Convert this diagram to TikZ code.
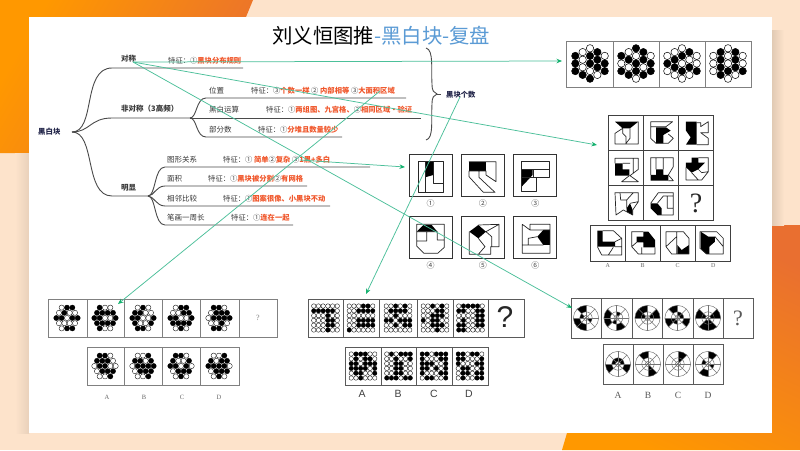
\documentclass[tikz,border=0pt]{standalone}
\usepackage{fontspec}
\setmainfont{Noto Sans CJK SC}
\newfontfamily\lsans{Liberation Sans}
\newfontfamily\lserif{Liberation Serif}
\usetikzlibrary{arrows.meta}
\definecolor{peach}{HTML}{FDE3CB}
\definecolor{orA}{HTML}{FF9800}
\definecolor{orB}{HTML}{E96F30}
\definecolor{redt}{HTML}{F0562A}
\definecolor{navy}{HTML}{23264A}
\definecolor{titleblue}{HTML}{5B9BD5}
\definecolor{link}{HTML}{4CC09A}
\definecolor{tip}{HTML}{14B26E}
\definecolor{treec}{HTML}{4A4A4A}
\definecolor{framec}{HTML}{5A5A5A}
\definecolor{framelt}{HTML}{808080}
\tikzset{
 branch/.style={draw=treec,line width=0.9pt},
 link/.style={draw=link,line width=0.75pt,-{Stealth[length=5.5pt,width=4.5pt,color=tip]}},
 tname/.style={anchor=west,inner sep=0pt,text=black!78,font=\fontsize{7.5}{9}\selectfont},
 tfeat/.style={anchor=west,inner sep=0pt,text=black!75,font=\fontsize{7.3}{9}\selectfont},
 capt/.style={inner sep=0pt,text=black!60,font=\lserif\fontsize{6}{7}\selectfont},
 frameln/.style={draw=framec,line width=0.9pt},
 framelite/.style={draw=framelt,line width=0.9pt},
 fig/.style={draw=black!85,line width=0.7pt,line join=round}
}
\newcommand{\rd}[1]{\textcolor{redt}{\textbf{#1}}}
\def\hexU{-2,-2,-2,-1,-1,-1,-1,0,0,0,0,0,1,1,1,1,2,2,2}
\def\hexV{-1,0,1,-1.5,-.5,.5,1.5,-2,-1,0,1,2,-1.5,-.5,.5,1.5,-1,0,1}
% pointy hex: columns left to right
\newcommand{\hexP}[3]{\foreach \bb [count=\i] in {#3}{%
 \pgfmathsetmacro\uu{{\hexU}[\i-1]}\pgfmathsetmacro\vv{{\hexV}[\i-1]}%
 \ifnum\bb=1 \def\cc{black}\else\def\cc{white}\fi
 \filldraw[fill=\cc,draw=black,line width=0.5pt] ({#1+\uu*7.35},{#2+\vv*7.6}) circle[radius=3.7];}}
% flat hex: rows top to bottom
\newcommand{\hexF}[3]{\foreach \bb [count=\i] in {#3}{%
 \pgfmathsetmacro\uu{{\hexU}[\i-1]}\pgfmathsetmacro\vv{{\hexV}[\i-1]}%
 \ifnum\bb=1 \def\cc{black}\else\def\cc{white}\fi
 \filldraw[fill=\cc,draw=black,line width=0.35pt] ({#1+\vv*5.35},{#2+\uu*5.2}) circle[radius=2.6];}}
\newcommand{\gcell}[3]{\foreach \bb [count=\i] in {#3}{%
 \pgfmathtruncatemacro\cl{mod(\i-1,6)}\pgfmathtruncatemacro\rw{int((\i-1)/6)}%
 \ifnum\bb=1 \def\cc{black}\else\def\cc{white}\fi
 \filldraw[fill=\cc,draw=black,line width=0.35pt] ({#1+(\cl-2.5)*4.7},{#2+(\rw-2.5)*4.8}) circle[radius=2.25];}}
\newcommand{\wheel}[4]{\begin{scope}[shift={(#1,#2)}]
 \foreach \aa/\ab in {#3}{\fill[black] (-\aa:12.6) arc[start angle=-\aa,end angle=-\ab,radius=12.6] -- (-\ab:6.2) arc[start angle=-\ab,end angle=-\aa,radius=6.2] -- cycle;}
 \foreach \aa/\ab in {#4}{\fill[black] (-\aa:6.2) arc[start angle=-\aa,end angle=-\ab,radius=6.2] -- (-\ab:2.6) arc[start angle=-\ab,end angle=-\aa,radius=2.6] -- cycle;}
 \draw[black!60,line width=0.45pt] (0,0) circle[radius=12.6] (0,0) circle[radius=6.2] (0,0) circle[radius=2.6];
 \foreach \t in {0,45,90,135}{\draw[black!55,line width=0.4pt] (\t:-12.6) -- (\t:12.6);}
\end{scope}}
\begin{document}
\begin{tikzpicture}[x=1pt,y=-1pt]
\useasboundingbox (0,0) rectangle (800,450);
% background
\fill[peach] (0,0) rectangle (800,450);
\shade[shading=axis,top color=orA,bottom color=orB,shading angle=60] (0,0) -- (253,0) -- (246,17) -- (29,17) -- (29,153) -- (0,153) -- cycle;
\shade[shading=axis,top color=orB,bottom color=orA,shading angle=-25] (800,225) -- (771,225) -- (771,433) -- (567,433) -- (562,450) -- (800,450) -- cycle;
\shade[left color=black!12!peach,right color=peach] (771,30) rectangle (784,225);
\shade[left color=peach,right color=black!8!peach] (15,153) rectangle (29,433);
\fill[white] (29,17) rectangle (771.5,433);
% title
\node[anchor=west,inner sep=0pt,font=\fontsize{20.4}{24}\selectfont] (title) at (272,36) {刘义恒图推\textcolor{titleblue}{-黑白块-复盘}};
% mind map
\node[anchor=west,inner sep=0pt,text=navy,font=\bfseries\fontsize{7.4}{9}\selectfont] (root) at (38,132) {黑白块};
\coordinate (rootJ) at (72,132);
\coordinate (jB) at (190,118);
\coordinate (jC) at (148,196);
\node[tname,font=\bfseries\fontsize{7.5}{9}\selectfont] (sym) at (121,59) {对称};
\node[tname,font=\bfseries\fontsize{7.5}{9}\selectfont] (asym) at (121,109) {非对称（3高频）};
\node[tname,font=\bfseries\fontsize{7.5}{9}\selectfont] (obv) at (121,188) {明显};
\node[tname] (pos) at (209,91) {位置};
\node[tname] (bw) at (209,110) {黑白运算};
\node[tname] (part) at (209,130) {部分数};
\node[tname] (rel) at (167,160) {图形关系};
\node[tname] (area) at (167,179) {面积};
\node[tname] (adj) at (167,199) {相邻比较};
\node[tname] (stroke) at (167,218) {笔画一周长};
\node[tfeat] (f1) at (168,61) {特征：①\rd{黑块分布规则}};
\node[tfeat] (f2) at (251,91) {特征：③\rd{个数一样} ② \rd{内部相等} ③\rd{大面积区域}};
\node[tfeat] (f3) at (266,110) {特征：①\rd{两组图、九宫格、}②\rd{相同区域·验证}};
\node[tfeat] (f4) at (258,130) {特征：①\rd{分堆且数量较少}};
\node[tfeat] (f5) at (223,160) {特征：① \rd{简单}②\rd{复杂} ③\rd{1黑+多白}};
\node[tfeat] (f6) at (208,179) {特征：①\rd{黑块被分割}②\rd{有网格}};
\node[tfeat] (f7) at (223,199) {特征：①\rd{图案很像、小黑块不动}};
\node[tfeat] (f8) at (231,218) {特征：①\rd{连在一起}};
\draw[branch] (rootJ) .. controls (96,132) and (82,68) .. (112,68) -- (243,68);
\draw[branch] (rootJ) .. controls (90,132) and (90,118) .. (112,118) -- (jB);
\draw[branch] (rootJ) .. controls (96,132) and (84,196) .. (112,196) -- (jC);
\draw[branch] (jB) .. controls (197,118) and (196,98) .. (206,98) -- (406,98);
\draw[branch] (jB) -- (421,118);
\draw[branch] (jB) .. controls (197,118) and (196,137) .. (206,137) -- (342,137);
\draw[branch] (jC) .. controls (156,196) and (154,167) .. (165,167) -- (370,167);
\draw[branch] (jC) .. controls (154,196) and (156,186) .. (165,186) -- (307,186);
\draw[branch] (jC) .. controls (154,196) and (156,206) .. (165,206) -- (330,206);
\draw[branch] (jC) .. controls (156,196) and (154,225) .. (165,225) -- (293,225);
% brace
\draw[treec,line width=0.9pt] (426,48) .. controls (434,50) and (431,70) .. (432,84) .. controls (432,91) and (434,93) .. (437,94) .. controls (434,95) and (432,97) .. (432,104) .. controls (431,120) and (434,138) .. (426,140);
\coordinate (braceTip) at (437,94);
\coordinate (countL) at (441,94);
\draw[treec,line width=0.9pt] (braceTip) -- (countL);
\node[anchor=west,inner sep=0pt,text=navy,font=\bfseries\fontsize{7.3}{9}\selectfont] (count) at (446,95) {黑块个数};
% top right panel
\draw[framelite] (566,41) rectangle (751.7,87);
\foreach \d in {613,659,705}{\draw[framelite] (\d,41) -- (\d,87);}
\hexP{590}{63.5}{1,1,1, 0,0,0,1, 0,1,1,0,1, 1,1,1,0, 0,1,1}
\hexP{636}{63.5}{1,0,1, 0,1,0,1, 1,0,1,1,0, 1,1,0,1, 0,1,1}
\hexP{682}{63.5}{0,1,0, 0,1,1,0, 0,1,0,1,0, 1,0,1,0, 0,0,1}
\hexP{728}{63.5}{0,0,0, 1,1,1,1, 0,0,0,1,0, 1,1,1,0, 0,0,1}
% six figure panels
\begin{scope}[shift={(400,140)},x=0.3333pt,y=-0.3333pt]
\foreach \xa/\ya/\lb/\lname in {28/43/①/la,185/43/②/lb,342/43/③/lc,28/229/④/ld,185/229/⑤/le,342/229/⑥/lf}{
 \draw[black!80,line width=1pt] (\xa,\ya) rectangle ++(128,127);
 \node[inner sep=0pt,text=black!70,font=\fontsize{8}{9}\selectfont] (\lname) at (\xa+64,\ya+146) {\lb};
}
% 1
\fill[black] (75,65) -- (100,65) -- (100,105) -- (75,112) -- cycle;
\draw[fig] (55,65) rectangle (130,157) (75,65) -- (75,157) (100,65) -- (100,130) -- (130,130);
% 2
\fill[black] (207,65) rectangle (258,93);
\draw[fig] (207,65) -- (288,65) -- (288,125) -- (258,105) -- (258,93) -- (207,93) -- (207,110) -- (250,157) -- (285,157) -- (237,112) -- (237,93);
% 3
\fill[black] (365,88) -- (398,88) -- (398,105) -- (365,140) -- cycle;
\draw[fig] (365,65) rectangle (447,112) (365,88) -- (447,88) (400,88) -- (400,112) (365,88) -- (365,153) -- (408,153) -- (408,112);
% 4
\fill[black] (50,275) -- (70,255) -- (95,255) -- (112,275) -- cycle;
\draw[fig] (50,253) -- (133,253) -- (133,322) -- (113,340) -- (72,340) -- (50,318) -- cycle (80,275) -- (80,303) -- (50,303) (50,275) -- (112,275) -- (112,300) -- (133,300);
% 5
\fill[black] (208,275) -- (235,255) -- (258,275) -- (235,295) -- cycle;
\draw[fig] (235,255) -- (297,253) -- (297,320) -- (272,320) -- (272,343) -- (208,343) -- (208,275) (258,275) -- (297,253) (235,295) -- (255,320) -- (235,343) (258,275) -- (275,290) -- (275,320);
% 6
\fill[black] (412,290) -- (430,270) -- (450,270) -- (450,315) -- (430,315) -- cycle;
\draw[fig] (367,253) -- (390,270) -- (390,253) -- (450,253) -- (450,340) -- (367,340) -- cycle (390,270) -- (450,270) (412,290) -- (385,295) -- (385,315) (430,315) -- (367,315);
\end{scope}
% matrix figure
\begin{scope}[shift={(580,110)},x=0.3333pt,y=-0.3333pt]
\draw[black!75,line width=1pt] (85,17) rectangle (402,333) (190,17) -- (190,333) (296,17) -- (296,333) (85,122) -- (402,122) (85,228) -- (402,228);
\draw[black!75,line width=1pt] (30,348) rectangle (452,454) (137,348) -- (137,454) (242,348) -- (242,454) (347,348) -- (347,454);
\node[inner sep=0pt,font=\lserif\fontsize{28}{30}\selectfont,text=black!85] (mq) at (348,280) {?};
\foreach \lx/\lb/\lname in {83/A/ma,188/B/mb,293/C/mc,400/D/md}{\node[capt] (\lname) at (\lx,468) {\lb};}
% row 1
\fill[black] (105,35) -- (175,35) -- (150,55) -- (128,55) -- cycle;
\draw[fig] (175,35) -- (175,102) -- (105,102) -- (105,70) -- (128,55) -- (128,70) -- (138,80) -- (138,102) (150,55) -- (150,85) -- (138,100);
\fill[black] (228,52) -- (258,52) -- (272,62) -- (250,75) -- (250,100) -- (228,100) -- cycle;
\draw[fig] (212,35) -- (278,35) -- (258,50) -- (212,50) (212,35) -- (212,85) -- (228,100) -- (265,100) -- (280,85) -- (265,72);
\fill[black] (330,35) -- (350,35) -- (350,104) -- (318,104) -- (332,82) -- (318,62) -- (318,35) -- cycle;
\draw[fig] (350,38) -- (362,38) -- (362,50) -- (385,35) -- (385,68) -- (362,68) -- (385,85) -- (385,104) -- (350,104);
% row 2
\fill[black] (105,160) -- (128,160) -- (128,178) -- (148,178) -- (148,197) -- (105,197) -- cycle;
\draw[fig] (105,160) -- (105,145) -- (175,145) -- (175,178) -- (150,197) -- (175,215) -- (125,215) -- (148,197) (128,160) -- (150,160) (160,145) -- (160,188);
\fill[black] (228,178) -- (250,178) -- (250,195) -- (265,195) -- (265,212) -- (212,212) -- (212,195) -- (228,195) -- cycle;
\draw[fig] (212,195) -- (212,143) -- (280,143) -- (280,170) -- (265,195) -- (280,212) -- (265,212) (228,143) -- (228,178) (250,143) -- (250,178);
\fill[black] (335,143) -- (355,143) -- (355,158) -- (375,158) -- (355,178) -- (335,188) -- (318,172) -- (318,158) -- (335,158) -- cycle;
\draw[fig] (355,143) -- (385,143) -- (385,185) -- (365,210) -- (318,210) -- (318,172) (335,188) -- (355,210) (355,178) -- (365,188) -- (385,185);
% row 3
\fill[black] (140,295) -- (150,280) -- (158,300) -- (158,315) -- (140,305) -- cycle;
\draw[fig] (105,248) -- (175,248) -- (175,275) -- (158,300) -- (158,315) -- (130,300) -- (108,315) -- cycle (120,248) -- (122,270) -- (140,270) -- (140,295) (160,248) -- (140,270) (175,275) -- (150,280);
\fill[black] (212,280) -- (232,280) -- (245,295) -- (245,315) -- (232,315) -- (212,295) -- cycle;
\draw[fig] (212,280) -- (235,248) -- (280,248) -- (280,315) -- (232,315) (232,280) -- (250,258) -- (262,258) -- (262,295) -- (280,295) (250,258) -- (280,258);
% options
\fill[black] (52,362) -- (68,362) -- (68,395) -- (105,395) -- (105,410) -- (52,410) -- cycle;
\draw[fig] (68,362) -- (100,362) -- (125,385) -- (125,435) -- (65,435) -- (52,410) (105,395) -- (125,385) (105,410) -- (125,410) (100,412) -- (85,435);
\fill[black] (170,380) -- (190,380) -- (190,365) -- (205,365) -- (225,390) -- (225,412) -- (190,412) -- (190,397) -- (170,397) -- cycle;
\draw[fig] (190,365) -- (155,365) -- (155,410) -- (175,432) -- (225,432) -- (225,412) (185,412) -- (185,432) (155,410) -- (170,397);
\fill[black] (292,432) -- (292,405) -- (305,420) -- (327,405) -- (327,432) -- cycle;
\draw[fig] (258,365) -- (310,365) -- (327,385) -- (327,432) -- (275,432) -- (258,410) -- cycle (290,365) -- (290,432) (258,410) -- (290,380);
\fill[black] (362,365) -- (385,380) -- (405,380) -- (405,395) -- (388,410) -- (388,432) -- (378,432) -- (362,415) -- cycle;
\draw[fig] (360,365) -- (410,365) -- (430,385) -- (430,432) -- (380,432) -- (360,415) -- cycle (405,380) -- (430,410);
\end{scope}
% bottom left panels
\draw[framelite] (48,299) rectangle (277,337);
\foreach \d in {87,124,162,200,239}{\draw[framelite] (\d,299) -- (\d,337);}
\draw[framelite] (87,347) rectangle (239,385);
\foreach \d in {124,162,200}{\draw[framelite] (\d,347) -- (\d,385);}
\hexF{67}{318}{0,1,1, 0,1,0,0, 1,1,0,1,1, 0,0,0,0, 0,1,1}
\hexF{105}{318}{1,0,0, 1,1,1,1, 1,1,0,0,1, 1,1,1,1, 1,0,0}
\hexF{143}{318}{0,1,0, 1,1,0,0, 1,1,0,0,1, 1,0,0,1, 1,1,0}
\hexF{181}{318}{0,1,1, 0,0,1,1, 1,1,0,0,1, 1,1,1,1, 0,1,0}
\hexF{219}{318}{1,1,0, 0,1,1,1, 0,1,1,1,1, 0,0,1,0, 1,1,0}
\hexF{105}{366}{1,1,0, 1,1,1,0, 0,1,1,0,0, 0,1,1,1, 0,0,1}
\hexF{143}{366}{0,0,1, 1,1,0,1, 0,1,1,1,1, 0,1,1,1, 0,0,1}
\hexF{181}{366}{1,1,0, 1,0,0,1, 1,1,0,1,0, 0,1,1,1, 0,1,0}
\hexF{219}{366}{0,0,1, 1,0,1,1, 1,1,1,1,0, 0,1,1,1, 0,1,0}
\node[inner sep=0pt,font=\lserif\fontsize{8}{9}\selectfont,text=black!50] (lq) at (258,318) {?};
\foreach \lx/\lb/\lname in {107/A/ba,144/B/bb,182/C/bc,219/D/bd}{\node[capt,font=\lserif\fontsize{6.5}{8}\selectfont] (\lname) at (\lx,397) {\lb};}
% middle panels
\draw[frameln] (308,299) rectangle (524,337);
\foreach \d in {343,379,417,453,488}{\draw[frameln] (\d,299) -- (\d,337);}
\draw[frameln] (345,347) rectangle (488,385);
\foreach \d in {381,416,452}{\draw[frameln] (\d,347) -- (\d,385);}
\gcell{325.5}{318}{0,0,0,0,0,0, 1,1,1,1,1,0, 0,0,0,1,0,0, 0,0,0,1,1,0, 0,0,0,1,1,0, 0,0,0,1,0,0}
\gcell{361}{318}{0,0,0,1,1,0, 0,0,1,1,1,1, 0,0,0,0,0,0, 0,0,1,1,1,1, 0,0,1,1,1,1, 1,0,0,0,0,0}
\gcell{398}{318}{0,0,1,0,1,0, 0,1,1,1,1,0, 0,0,1,0,0,0, 1,1,0,1,1,1, 0,0,1,0,1,1, 0,0,0,0,0,0}
\gcell{435}{318}{0,0,1,0,1,0, 0,0,0,1,1,0, 0,0,1,1,1,0, 1,0,1,1,0,0, 0,0,1,1,1,0, 0,0,0,1,0,0}
\gcell{470.5}{318}{0,1,1,1,1,0, 1,1,0,0,1,1, 0,0,0,0,1,1, 0,1,0,0,1,1, 1,1,0,0,1,1, 1,1,0,0,0,0}
\gcell{363}{366}{0,1,1,1,0,0, 0,1,0,1,1,0, 1,1,0,1,1,1, 1,1,1,1,0,1, 0,1,1,0,0,1, 0,0,1,0,0,0}
\gcell{398.5}{366}{0,1,0,1,1,1, 0,0,1,0,0,1, 0,0,1,1,0,0, 0,0,1,1,0,0, 0,0,1,1,0,0, 1,1,1,0,1,1}
\gcell{434}{366}{1,1,0,1,1,1, 1,0,0,0,1,1, 1,1,1,0,0,1, 1,1,0,1,0,1, 1,0,0,0,1,1, 0,1,1,0,0,1}
\gcell{470}{366}{1,1,0,1,1,0, 1,1,0,0,0,1, 1,0,0,0,1,1, 0,1,1,0,0,1, 0,1,1,0,1,1, 0,1,0,0,1,1}
\node[inner sep=0pt,font=\lsans\fontsize{30}{32}\selectfont,text=black!85] (gq) at (505,317) {?};
\foreach \lx/\lb/\lname in {362/A/ga,398/B/gb,434/C/gc,469/D/gd}{\node[inner sep=0pt,font=\lsans\fontsize{10.5}{12}\selectfont,text=black!75] (\lname) at (\lx,394) {\lb};}
% right panels
\draw[frameln] (571,298) rectangle (753,338);
\foreach \d in {601,632,662,693,723}{\draw[frameln] (\d,298) -- (\d,338);}
\draw[frameln] (603,344) rectangle (723,384);
\foreach \d in {633,663,693}{\draw[frameln] (\d,344) -- (\d,384);}
\wheel{586}{318}{90/135,180/225,225/270}{315/360,135/180}
\wheel{616.5}{318}{135/180,180/225,270/315}{45/90,225/270}
\wheel{647.5}{318}{90/135,0/45,135/180}{135/180,0/45}
\wheel{677.5}{318}{90/135,315/360,180/225}{0/90,180/270}
\wheel{708}{318}{135/180,0/45,225/270,270/315}{135/180,0/45,225/270,270/315}
\wheel{618}{364}{180/225,315/360}{0/180}
\wheel{648}{364}{90/135,270/315}{270/315}
\wheel{678}{364}{45/90}{45/90}
\wheel{708}{364}{45/90,225/270}{135/180,315/360}
\node[inner sep=0pt,font=\lserif\fontsize{22}{24}\selectfont,text=black!65] (wq) at (738,318) {?};
\foreach \lx/\lb/\lname in {618/A/wa,648/B/wb,678/C/wc,708/D/wd}{\node[inner sep=0pt,font=\lserif\fontsize{9.5}{11}\selectfont,text=black!65] (\lname) at (\lx,395) {\lb};}
% connectors
\coordinate (symOut) at (133,62);
\coordinate (tTop) at (562,61);
\coordinate (tMat) at (597,145);
\coordinate (tWheel) at (572,308);
\coordinate (relOut) at (300,160);
\coordinate (tOne) at (405,167);
\coordinate (posOut) at (380,91);
\coordinate (tHex) at (118,304);
\coordinate (countOut) at (460,97);
\coordinate (tGrid) at (366,294);
\draw[link] (symOut) -- (tTop);
\draw[link] (symOut) -- (tMat);
\draw[link] (symOut) -- (tWheel);
\draw[link] (relOut) -- (tOne);
\draw[link] (posOut) -- (tHex);
\draw[link] (countOut) -- (tGrid);
\end{tikzpicture}
\end{document}
